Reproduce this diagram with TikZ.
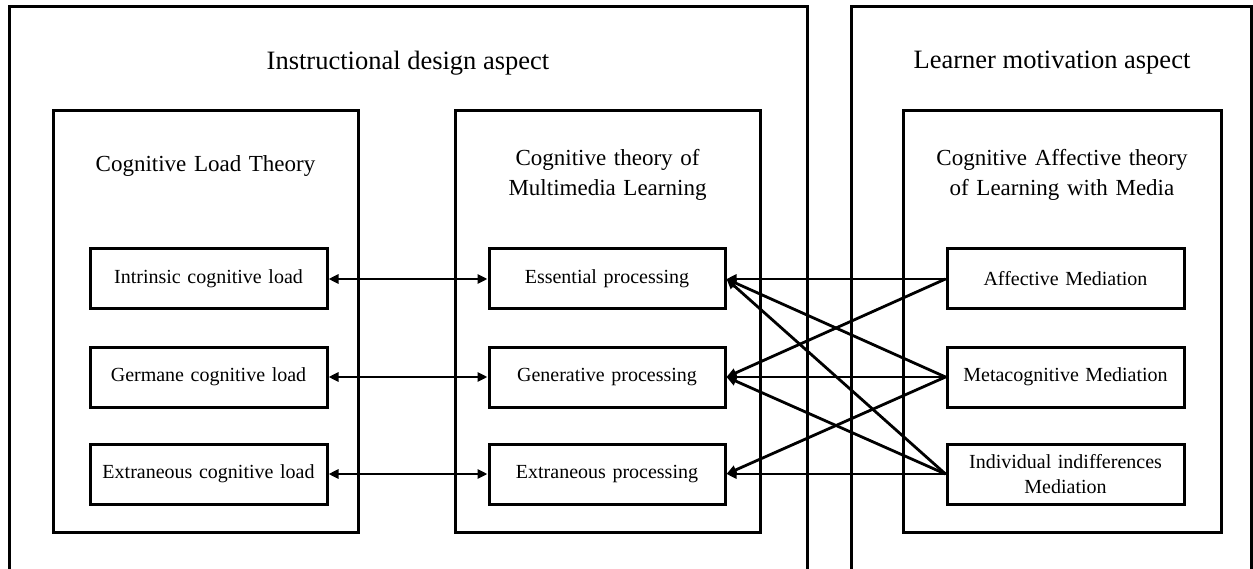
\documentclass[tikz,border=0pt]{standalone}
\usepackage{fontspec}
\setmainfont{Liberation Serif}
\usetikzlibrary{arrows.meta}
\newcommand\widesp{\spaceskip=0.33em plus 0.1em minus 0.05em\relax}
\begin{document}
\begin{tikzpicture}[x=1pt,y=-1pt,
  outerline/.style={line width=3pt,line cap=butt,line join=miter},
  theorybox/.style={draw,line width=3pt,minimum width=305pt,minimum height=421pt,inner sep=0pt},
  itembox/.style={draw,line width=3pt,minimum width=237pt,minimum height=60pt,inner sep=0pt,align=center,
    font=\fontsize{20}{25}\selectfont\widesp},
  theorytitle/.style={align=center,inner sep=0pt,font=\fontsize{23}{30}\selectfont\widesp},
  aspecttitle/.style={inner sep=0pt,font=\fontsize{26.5}{32}\selectfont},
  conn/.style={line width=2.8pt},
  tip/.style={-{Triangle[length=10pt,width=9pt]}},
  bitip/.style={{Triangle[length=10pt,width=9pt]}-{Triangle[length=10pt,width=9pt]}}]
\useasboundingbox (0,0) rectangle (1253,569);
% outer open frames
\draw[outerline] (9,569) -- (9,7) -- (807,7) -- (807,569);
\draw[outerline] (851,569) -- (851,7) -- (1251,7) -- (1251,569);
\node[aspecttitle] (aspA) at (408,63) {Instructional design aspect};
\node[aspecttitle] (aspB) at (1052,63) {Learner motivation aspect};
% theory boxes
\node[theorybox] (clt) at (205.5,321.5) {};
\node[theorybox] (ctml) at (607.5,321.5) {};
\node[theorybox,minimum width=318pt] (catlm) at (1062,321.5) {};
\node[theorytitle] (tclt) at (205.5,166) {Cognitive Load Theory};
\node[theorytitle] (tctml) at (607.5,175) {Cognitive theory of\\Multimedia Learning};
\node[theorytitle] (tcatlm) at (1062,175) {Cognitive Affective theory\\of Learning with Media};
% item boxes
\node[itembox] (l1) at (208.5,279) {Intrinsic cognitive load};
\node[itembox] (l2) at (208.5,377) {Germane cognitive load};
\node[itembox] (l3) at (208.5,474) {Extraneous cognitive load};
\node[itembox,minimum width=236pt] (m1) at (607,279) {Essential processing};
\node[itembox,minimum width=236pt] (m2) at (607,377) {Generative processing};
\node[itembox,minimum width=236pt] (m3) at (607,474) {Extraneous processing};
\node[itembox] (r1) at (1065.5,279) {Affective Mediation};
\node[itembox] (r2) at (1065.5,377) {Metacognitive Mediation};
\node[itembox] (r3) at (1065.5,474) {Individual indifferences\\Mediation};
% connectors
\draw[conn,bitip] (l1.east) -- (m1.west);
\draw[conn,bitip] (l2.east) -- (m2.west);
\draw[conn,bitip] (l3.east) -- (m3.west);
\draw[conn,tip] (r1.west) -- (m1.east);
\draw[conn,tip] (r1.west) -- (m2.east);
\draw[conn,tip] (r2.west) -- (m1.east);
\draw[conn,tip] (r2.west) -- (m2.east);
\draw[conn,tip] (r2.west) -- (m3.east);
\draw[conn,tip] (r3.west) -- (m1.east);
\draw[conn,tip] (r3.west) -- (m2.east);
\draw[conn,tip] (r3.west) -- (m3.east);
\end{tikzpicture}
\end{document}
